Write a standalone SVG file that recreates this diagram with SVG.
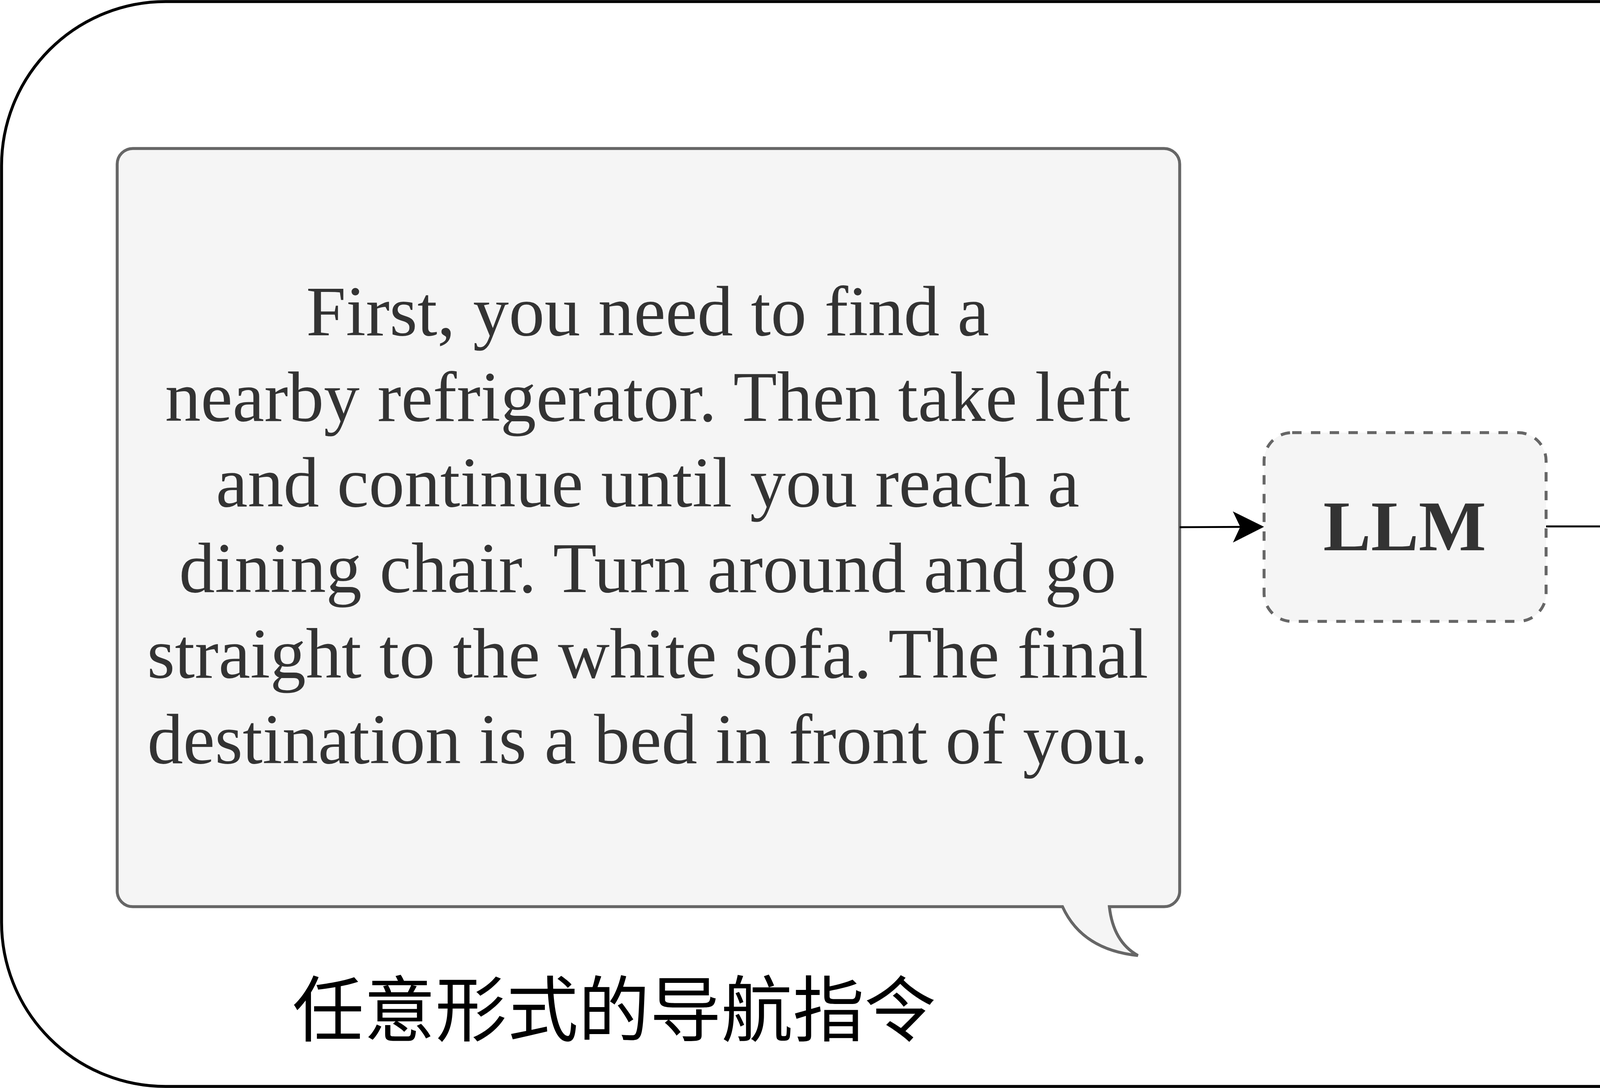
<svg xmlns="http://www.w3.org/2000/svg" width="7208" height="2784" viewBox="0 0 7208 2784">
<style>
.box{fill:#f5f5f5;stroke:#666666;stroke-width:7.5}
.dash{fill:#f5f5f5;stroke:#666666;stroke-width:7.5;stroke-dasharray:24 24}
.conn{fill:none;stroke:#000000;stroke-width:4.8}
.para{font-family:"Liberation Serif","Times New Roman",serif;font-size:183px;fill:#333333;text-anchor:middle}
.item{font-family:"Liberation Serif","Times New Roman",serif;font-size:183px;font-weight:bold;fill:#333333}
.cjkb{font-family:"Noto Sans CJK SC","Noto Sans",sans-serif;font-size:188px;font-weight:bold;fill:#000000;text-anchor:end}
.cjk{font-family:"Noto Sans CJK SC","Noto Sans",sans-serif;font-size:183px;fill:#000000;text-anchor:middle}
</style>
<defs>
<marker id="arr" markerUnits="userSpaceOnUse" markerWidth="80" markerHeight="80" viewBox="0 0 72 72" refX="62" refY="36" orient="auto">
<path d="M0,0 L72,36 L0,72 L17,36 Z" fill="#000000"/>
</marker>
</defs>
<g id="frame">
<rect x="4" y="4" width="7199" height="2776" rx="420" ry="420" fill="#ffffff" stroke="#000000" stroke-width="7.5"/>
</g>
<g id="instruction">
<path class="box" d="M340,380 H2980 A40,40 0 0 1 3020,420 V2280 A40,40 0 0 1 2980,2320 H2840 Q2850,2410 2913,2445 Q2770,2430 2720,2320 H340 A40,40 0 0 1 300,2280 V420 A40,40 0 0 1 340,380 Z"/>
<text class="para" x="1658" y="858">First, you need to find a</text>
<text class="para" x="1658" y="1077">nearby refrigerator. Then take left</text>
<text class="para" x="1658" y="1296">and continue until you reach a</text>
<text class="para" x="1658" y="1515">dining chair. Turn around and go</text>
<text class="para" x="1658" y="1734">straight to the white sofa. The final</text>
<text class="para" x="1658" y="1953">destination is a bed in front of you.</text>
</g>
<g id="instruction-label">
<text class="cjk" x="1572" y="2650">任意形式的导航指令</text>
</g>
<g id="llm">
<rect class="dash" x="3236" y="1107" width="722" height="483" rx="72" ry="72"/>
<text x="3596" y="1408" font-family="'Liberation Serif','Times New Roman',serif" font-size="183" font-weight="bold" fill="#333333" text-anchor="middle">LLM</text>
</g>
<g id="targets">
<rect class="box" x="5020" y="188" width="1919" height="998" rx="150" ry="150"/>
<text class="item" x="5215" y="415">1. refrigerator</text>
<text class="item" x="5215" y="636">2. chair</text>
<text class="item" x="5215" y="857">3. sofa</text>
<text class="item" x="5215" y="1076">4. bed</text>
<text class="cjkb" x="6808" y="1097">目标</text>
</g>
<g id="directions">
<rect class="box" x="5020" y="1446" width="1919" height="1014" rx="150" ry="150"/>
<text class="item" x="5215" y="1680">1. null</text>
<text class="item" x="5215" y="1900">2. left</text>
<text class="item" x="5215" y="2121">3. back</text>
<text class="item" x="5215" y="2342">4. front</text>
<text class="cjkb" x="6808" y="2387">方位</text>
</g>
<g id="connectors">
<path class="conn" d="M3020,1349 L3225,1348" marker-end="url(#arr)"/>
<path class="conn" d="M3958,1347 H4219"/>
<path class="conn" d="M4219,629 V1946"/>
<path class="conn" d="M4219,629 H5009" marker-end="url(#arr)"/>
<path class="conn" d="M4229,1943 L5001,1952" marker-end="url(#arr)"/>
</g>
</svg>
